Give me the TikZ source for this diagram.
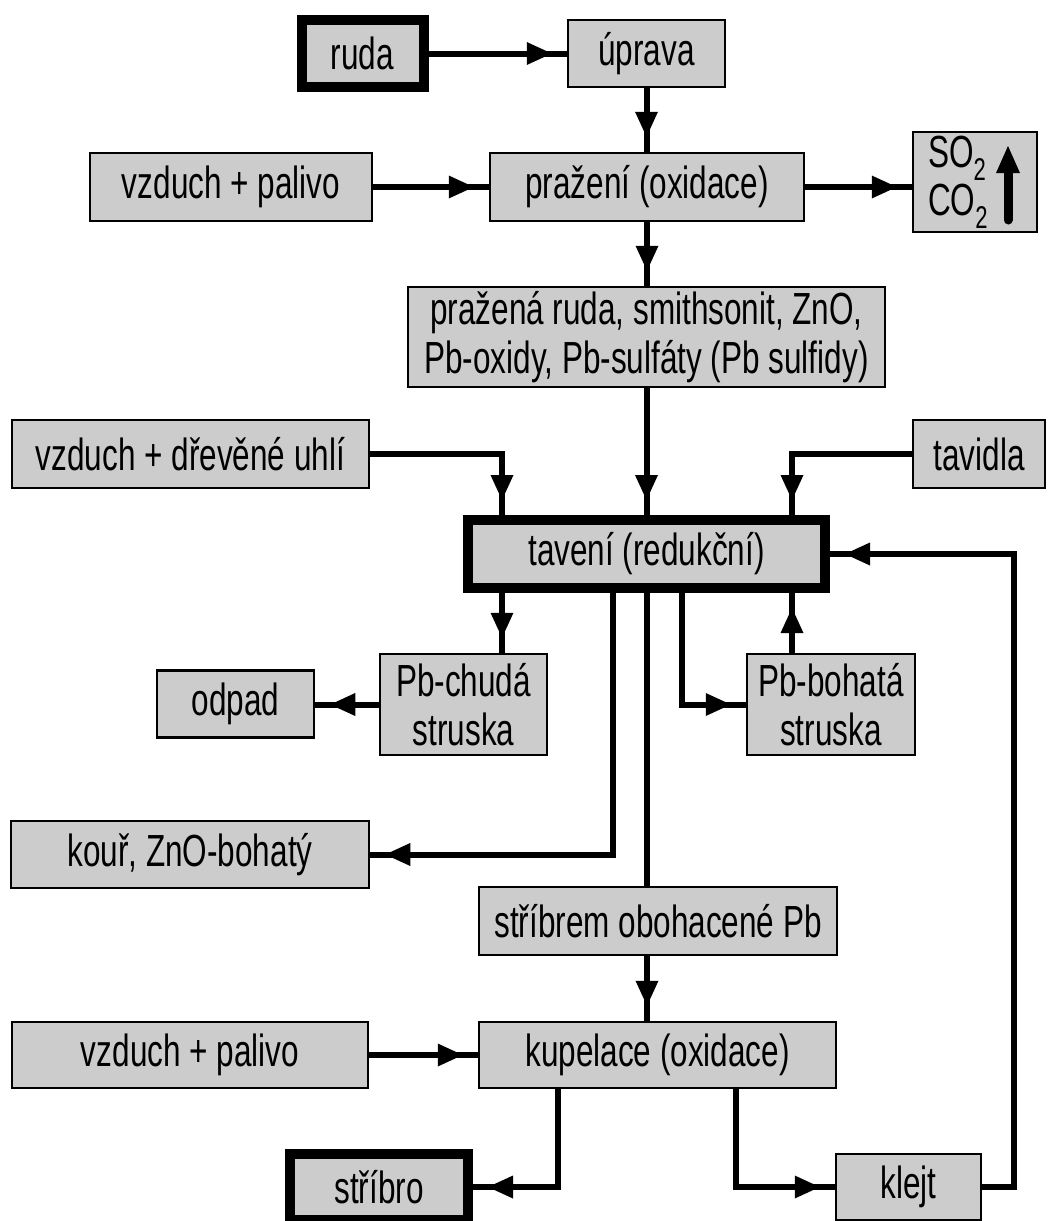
\documentclass[tikz,border=0pt]{standalone}
\usepackage{fontspec}
\setmainfont{Liberation Sans}[FakeStretch=0.70]
\usetikzlibrary{decorations.markings}
\definecolor{boxgray}{RGB}{204,204,204}
\tikzset{
  box/.style={draw=black, fill=boxgray, line width=2.5pt, inner sep=0pt, align=center,
    font=\fontsize{45}{49}\selectfont},
  heavybox/.style={box, line width=10pt},
  link/.style={line width=6pt},
  flow/.style={link, postaction={decorate},
    decoration={markings, mark=at position -15pt with {\fill (0pt,0pt) -- (-25pt,11.5pt) -- (-25pt,-11.5pt) -- cycle;}}},
}
\begin{document}
\begin{tikzpicture}[x=1pt,y=-1pt]
\useasboundingbox (0,0) rectangle (1061,1221);
% column coordinates
\coordinate (cL) at (502,0);
\coordinate (cK) at (613,0);
\coordinate (cM) at (647,0);
\coordinate (cB) at (682,0);
\coordinate (cR) at (792,0);
\coordinate (cS) at (558,0);
\coordinate (cT) at (736,0);
\coordinate (cF) at (1014,0);
% nodes
\node[heavybox, minimum width=122pt, minimum height=67pt] (ruda) at (362.5,53.5) {ruda};
\node[box, minimum width=157pt, minimum height=67pt] (uprava) at (646.5,53.5) {úprava};
\node[box, minimum width=282pt, minimum height=68pt] (air1) at (231,187) {vzduch + palivo};
\node[box, minimum width=314pt, minimum height=68pt] (praz) at (647,187) {pražení (oxidace)};
\node[box, minimum width=124pt, minimum height=100pt] (so2) at (975,182) {};
\node[font=\fontsize{45}{48}\selectfont, align=left, anchor=west, inner sep=0pt] (so2txt) at (928,182) {SO\textsubscript{2}\\CO\textsubscript{2}};
\node[box, minimum width=477pt, minimum height=100pt] (ore) at (646.5,337) {pražená ruda, smithsonit, ZnO,\\Pb-oxidy, Pb-sulfáty (Pb sulfidy)};
\node[box, minimum width=357pt, minimum height=68pt] (air2) at (190.5,454) {vzduch + dřevěné uhlí};
\node[box, minimum width=132pt, minimum height=68pt] (tavidla) at (979,454) {tavidla};
\node[heavybox, minimum width=357pt, minimum height=68pt] (tav) at (646.5,554) {tavení (redukční)};
\node[box, minimum width=167pt, minimum height=101pt] (chuda) at (463.5,704.5) {Pb-chudá\\struska};
\node[box, minimum width=157pt, minimum height=67pt] (odpad) at (235.5,704) {odpad};
\node[box, minimum width=168pt, minimum height=101pt] (bohata) at (831,704.5) {Pb-bohatá\\struska};
\node[box, minimum width=358pt, minimum height=67pt] (kour) at (190,854.5) {kouř, ZnO-bohatý};
\node[box, minimum width=358pt, minimum height=68pt] (stribrem) at (658,921) {stříbrem obohacené Pb};
\node[box, minimum width=357pt, minimum height=66pt] (kup) at (657.5,1055) {kupelace (oxidace)};
\node[box, minimum width=356pt, minimum height=66pt] (air3) at (190,1055) {vzduch + palivo};
\node[heavybox, minimum width=178pt, minimum height=66pt] (stribro) at (379,1187) {stříbro};
\node[box, minimum width=145pt, minimum height=66pt] (klejt) at (908.5,1187) {klejt};
% gas arrow inside SO2 box
\draw[line width=9pt, line cap=round] (1008,220) -- (1008,168);
\fill (1008,146) -- (996,173) -- (1020,173) -- cycle;
% connectors
\draw[flow] (ruda) -- (uprava);
\draw[flow] (uprava.south) -- (uprava.south |- praz.north);
\draw[flow] (air1) -- (praz);
\draw[flow] (praz.east) -- (praz.east -| so2.west);
\draw[flow] (praz.south) -- (praz.south |- ore.north);
\draw[flow] (ore.south) -- (ore.south |- tav.north);
\draw[flow] (air2.east) -| (tav.north -| cL);
\draw[flow] (tavidla.west) -| (tav.north -| cR);
\draw[flow] (tav.south -| cL) -- (chuda.north -| cL);
\draw[flow] (chuda.west) -- (chuda.west -| odpad.east);
\draw[flow] (tav.south -| cB) |- (bohata.west);
\draw[flow] (bohata.north -| cR) -- (tav.south -| cR);
\draw[flow] (tav.south -| cK) |- (kour.east);
\draw[link] (tav.south -| cM) -- (stribrem.north -| cM);
\draw[flow] (stribrem.south -| cM) -- (kup.north -| cM);
\draw[flow] (air3.east) -- (air3.east -| kup.west);
\draw[flow] (kup.south -| cS) |- (stribro.east);
\draw[flow] (kup.south -| cT) |- (klejt.west);
\draw[flow] (klejt.east) -| (cF |- tav.east) -- (tav.east);
\end{tikzpicture}
\end{document}
